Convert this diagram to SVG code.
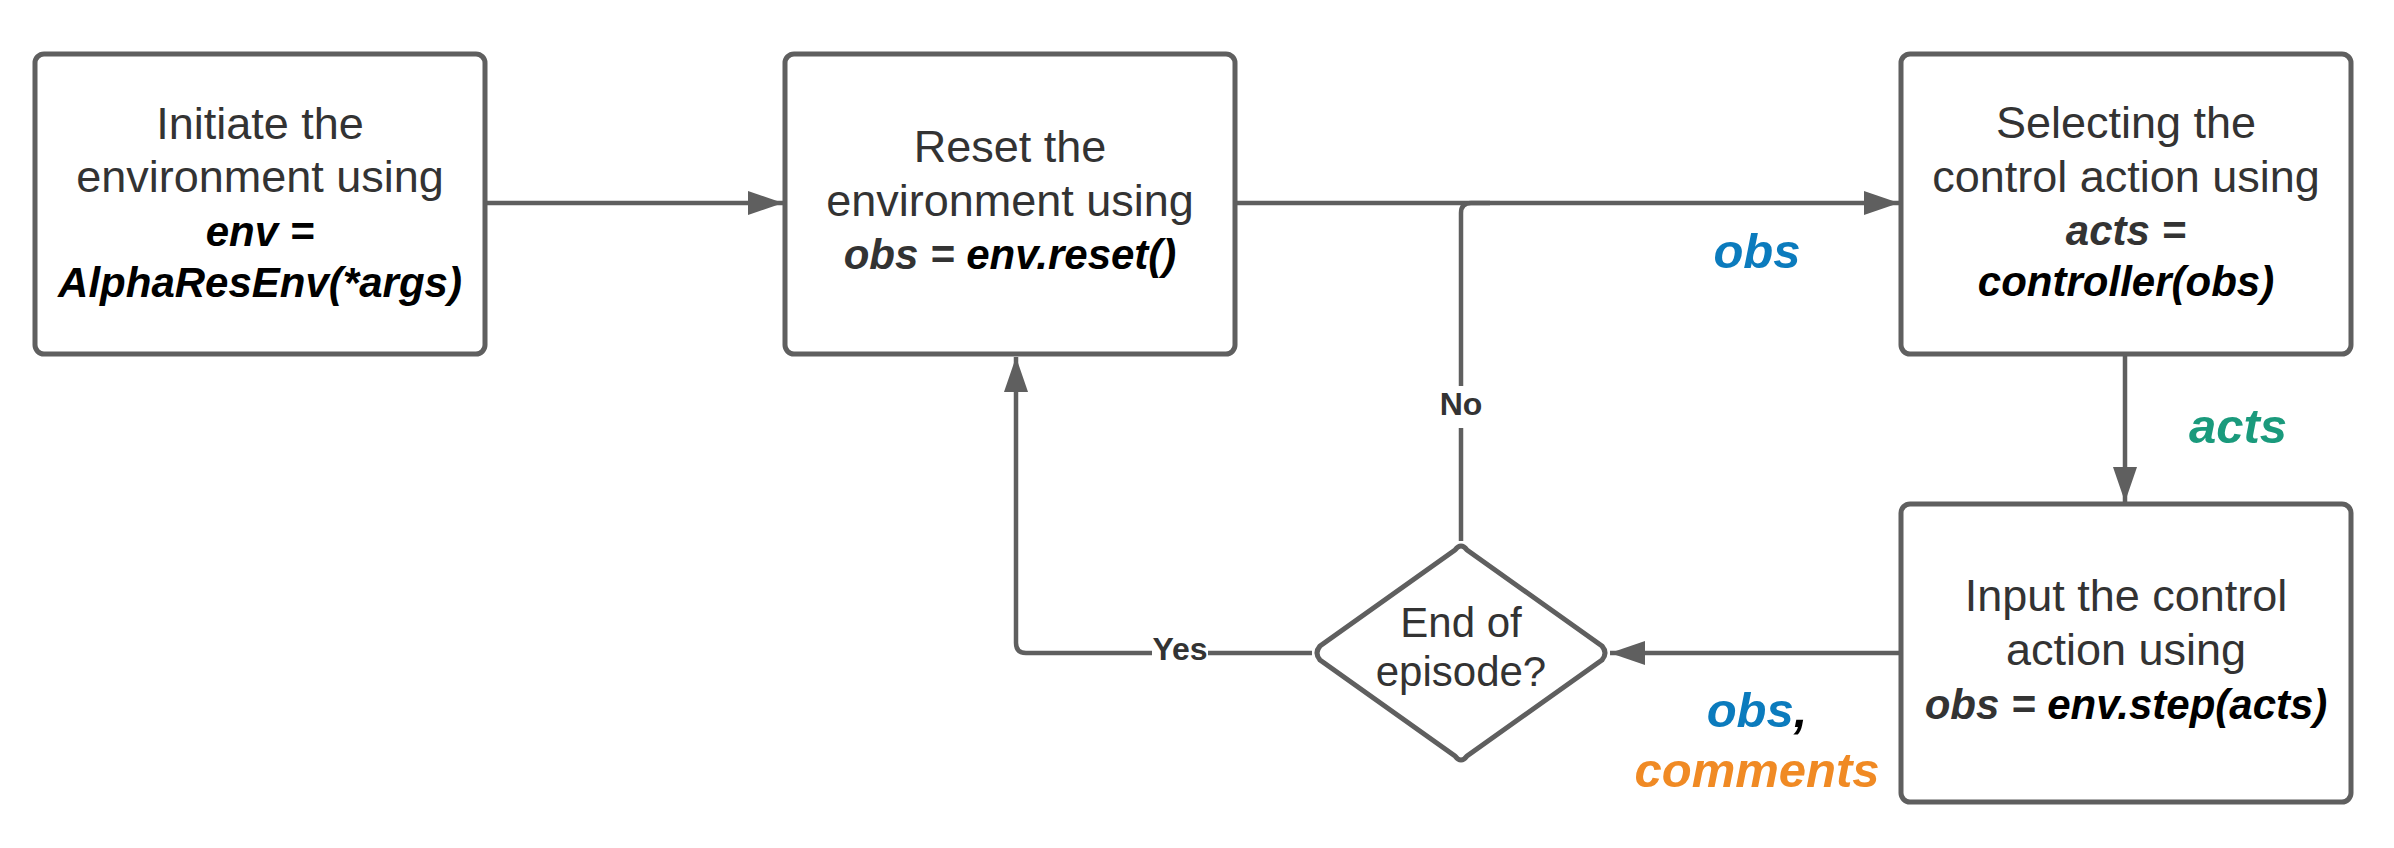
<svg xmlns="http://www.w3.org/2000/svg" width="2394" height="848" viewBox="0 0 2394 848">
<style>
.box{fill:#fff;stroke:#5f5f5f;stroke-width:5}
.t{font-family:"Liberation Sans",Arial,sans-serif;font-size:45px;fill:#333;text-anchor:middle}
.c{font-family:"Liberation Sans",Arial,sans-serif;font-size:42px;font-weight:bold;font-style:italic;fill:#000;text-anchor:middle}
.g{fill:#333}
.lbl{font-family:"Liberation Sans",Arial,sans-serif;font-size:49px;font-weight:bold;font-style:italic;text-anchor:middle}
.yn{font-family:"Liberation Sans",Arial,sans-serif;font-size:32px;font-weight:bold;fill:#333;text-anchor:middle}
.ln{fill:none;stroke:#5f5f5f;stroke-width:4.5}
</style>
<defs>
<marker id="ah" markerUnits="userSpaceOnUse" markerWidth="36" markerHeight="24" refX="35" refY="12" orient="auto">
<path d="M0,0 L35,12 L0,24 Z" fill="#5f5f5f"/>
</marker>
</defs>
<rect width="2394" height="848" fill="#fff"/>
<g id="connectors">
<path class="ln" d="M487,203 H783" marker-end="url(#ah)"/>
<path class="ln" d="M1237,203 H1899" marker-end="url(#ah)"/>
<path class="ln" d="M1461,541 V213 Q1461,203 1471,203 H1490"/>
<path class="ln" d="M2125,356 V502" marker-end="url(#ah)"/>
<path class="ln" d="M1899,653 H1610" marker-end="url(#ah)"/>
<path class="ln" d="M1312,653 H1026 Q1016,653 1016,643 V357" marker-end="url(#ah)"/>
<rect x="1436" y="386" width="50" height="42" fill="#fff"/>
<text class="yn" x="1461" y="415">No</text>
<rect x="1152" y="632" width="56" height="36" fill="#fff"/>
<text class="yn" x="1180" y="660">Yes</text>
<text class="lbl" x="1757" y="268" fill="#0b7bbd">obs</text>
<text class="lbl" x="2238" y="443" fill="#1a9a7c">acts</text>
<text class="lbl" x="1757" y="727"><tspan fill="#0b7bbd">obs</tspan><tspan fill="#000">,</tspan></text>
<text class="lbl" x="1757" y="787" fill="#f08a24">comments</text>
</g>
<g id="initiate">
<rect class="box" x="35" y="54" width="450" height="300" rx="9"/>
<text class="t" x="260" y="139">Initiate the</text>
<text class="t" x="260" y="192">environment using</text>
<text class="c" x="260" y="246">env =</text>
<text class="c" x="260" y="297">AlphaResEnv(*args)</text>
</g>
<g id="reset">
<rect class="box" x="785" y="54" width="450" height="300" rx="9"/>
<text class="t" x="1010" y="162">Reset the</text>
<text class="t" x="1010" y="216">environment using</text>
<text class="c" x="1010" y="269"><tspan class="g">obs =</tspan> env.reset()</text>
</g>
<g id="select">
<rect class="box" x="1901" y="54" width="450" height="300" rx="9"/>
<text class="t" x="2126" y="138">Selecting the</text>
<text class="t" x="2126" y="192">control action using</text>
<text class="c" x="2126" y="245"><tspan class="g">acts =</tspan></text>
<text class="c" x="2126" y="296">controller(obs)</text>
</g>
<g id="input">
<rect class="box" x="1901" y="504" width="450" height="298" rx="9"/>
<text class="t" x="2126" y="611">Input the control</text>
<text class="t" x="2126" y="665">action using</text>
<text class="c" x="2126" y="719"><tspan class="g">obs =</tspan> env.step(acts)</text>
</g>
<g id="decision">
<path d="M1455,550 Q1461,542 1467,550 L1602,646 Q1608,653 1602,660 L1467,756 Q1461,764 1455,756 L1320,660 Q1314,653 1320,646 Z" fill="#fff" stroke="#5f5f5f" stroke-width="5" stroke-linejoin="round"/>
<text class="t" x="1461" y="637" style="font-size:42px">End of</text>
<text class="t" x="1461" y="686" style="font-size:42px">episode?</text>
</g>
</svg>
